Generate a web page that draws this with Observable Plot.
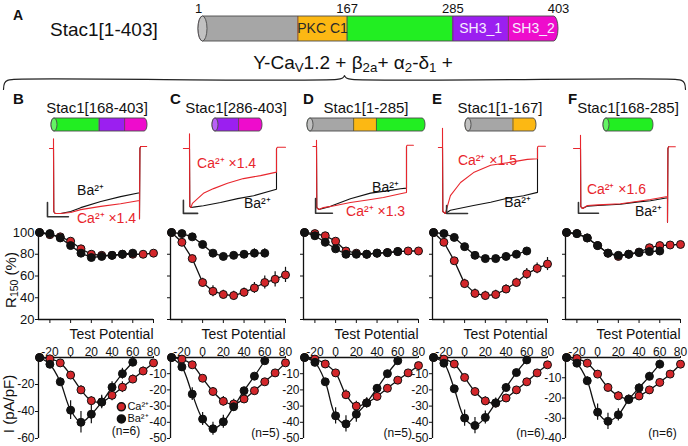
<!DOCTYPE html>
<html>
<head>
<meta charset="utf-8">
<script src="https://cdn.jsdelivr.net/npm/d3@7"></script>
<script src="https://cdn.jsdelivr.net/npm/@observablehq/plot@0.6"></script>
<style>
  html, body { margin: 0; padding: 0; background: #fff; }
  #fig { position: relative; width: 688px; height: 446px; overflow: hidden; background: #fff;
         font-family: "Liberation Sans", Arial, Helvetica, sans-serif; color: #111; }
  #fig svg { position: absolute; left: 0; top: 0; }
  .t { position: absolute; white-space: nowrap; line-height: 1; }
  .t sub { font-size: 70%; vertical-align: -0.25em; line-height: 0; }
</style>
</head>
<body>
<div id="fig"></div>
<script>
// ===================== DATA =====================
const panelLetters = ["B", "C", "D", "E", "F"];
const constructNames = ["Stac1[168-403]", "Stac1[286-403]", "Stac1[1-285]", "Stac1[1-167]", "Stac1[168-285]"];
const constructStart = [168, 286, 1, 1, 168];
const constructEnd = [403, 403, 285, 167, 285];

const domainNames = ["", "PKC C1", "", "SH3_1", "SH3_2"];
const domainStart = [1, 112, 167, 285, 347];
const domainEnd = [112, 167, 285, 347, 403];
const domainColors = ["#a6a6a6", "#fcb813", "#22ee22", "#9b1ff0", "#ee0ccc"];
const residueMarks = [1, 167, 285, 403];

// test potentials (mV)
const voltCa = [-30, -20, -10, 0, 10, 20, 30, 40, 50, 60, 70, 80];
const voltBa = [-30, -20, -10, 0, 10, 20, 30, 40, 50, 60];
const xTickValues = [-20, 0, 20, 40, 60, 80];
const r150TickValues = [20, 40, 60, 80, 100];
const ivTickValues = [[-20, -40, -60], [-10, -20, -30, -40, -50], [-10, -20, -30, -40, -50], [-10, -20, -30, -40, -50], [-10, -20, -30, -40]];
const ivLowest = [-60, -50, -50, -50, -40];

// R150 (%)
const r150Ca = [
  [100, 98, 96, 92, 85, 80, 79, 79, 80, 80, 80, 81],
  [100, 91, 76, 54, 46, 43, 42, 45, 49, 54, 57, 61],
  [100, 99, 97, 92, 83, 81, 80, 81, 81.5, 82.5, 83, 83],
  [100, 91, 74, 53, 44, 42, 43, 48, 54, 62, 67, 71],
  [100, 99, 95, 88, 81, 78, 80, 82, 86, 88, 88.5, 89]
];
const r150CaErr = [
  [0, 1, 1, 2, 2, 2, 2, 2, 2, 2, 2, 2],
  [0, 2, 3, 4, 5, 4, 4, 4, 5, 6, 7, 7],
  [0, 1, 1, 2, 2, 2, 1, 1, 1, 1, 1, 2],
  [0, 1, 2, 4, 4, 4, 4, 4, 4, 5, 5, 6],
  [0, 1, 1, 1, 1, 2, 2, 2, 1, 1, 1, 1]
];
const r150Ba = [
  [100, 99, 95, 88, 81, 77, 78, 79, 80, 81],
  [100, 99, 96, 89, 81, 78, 79, 80, 81, 81],
  [100, 97, 91, 85, 80, 80, 80, 81, 81.5, 82.5],
  [100, 99, 95.5, 87, 79, 76, 76, 78, 80, 83],
  [100, 99, 95, 88, 81, 79, 80, 81.5, 82.5, 83]
];
const r150BaErr = [
  [0, 1, 1, 2, 2, 2, 2, 2, 3, 3],
  [0, 1, 1, 1, 2, 2, 2, 3, 4, 4],
  [0, 1, 2, 2, 2, 2, 2, 1, 1, 1],
  [0, 1, 1, 1, 2, 2, 2, 1, 1, 2],
  [0, 1, 1, 1, 2, 2, 2, 1, 1, 2]
];

// I-V (pA/pF)
const ivCa = [
  [0, -1, -4, -13, -24, -32, -33, -28, -22, -16, -10, -4],
  [0, -1, -4.5, -12.8, -21, -27, -28.7, -25.6, -20.5, -15, -9.5, -3.3],
  [0, -1, -4, -9.5, -23, -30, -28, -24, -19, -14, -9.5, -5],
  [0, -1, -4, -12.3, -21, -26.8, -28.2, -25, -20, -15, -9.5, -4.5],
  [0, -0.5, -2.8, -8.2, -14.8, -18.9, -20.5, -19, -16, -12.3, -8.2, -3.3]
];
const ivCaErr = [
  [0, 0.5, 1, 2, 3, 3, 4, 4, 4, 3, 3, 2],
  [0, 0.5, 1, 1.5, 2.5, 3, 3, 2.5, 2, 1.5, 1, 1],
  [0, 0.5, 1, 2, 3, 3, 3, 2, 2, 1.5, 1, 1],
  [0, 0.5, 1, 1.5, 2, 2.5, 2.5, 2, 2, 1.5, 1, 1],
  [0, 0.5, 1, 1.5, 2, 2, 2, 2, 1.5, 1.5, 1, 1]
];
const ivBa = [
  [0, -5, -18, -39, -48, -42, -33, -22, -12, -3.5],
  [0, -5.8, -22.6, -38, -44, -39.7, -30.4, -20.5, -11.5, -2],
  [0, -3, -15, -36, -41, -35, -28, -19, -10, -2],
  [0, -3.5, -19.3, -37.4, -42, -37, -28, -18.5, -9.3, -1.5],
  [0, -2.8, -11.5, -27, -31.5, -28.3, -20.8, -15, -9.3, -3.3]
];
const ivBaErr = [
  [0, 1, 3, 7, 8, 7, 5, 4, 4, 2],
  [0, 1, 4, 4, 4, 4, 3, 2, 1.5, 1],
  [0, 1, 2, 5, 5, 5, 3, 2, 2, 1],
  [0, 1, 2, 5, 5, 4, 3, 2, 1.5, 1],
  [0, 1, 2, 4, 4, 3, 2, 2, 2, 2]
];
const nCells = [6, 5, 5, 6, 6];

// current traces (time in ms from pulse onset, current normalised to peak)
const traceCaT = [
  [-14, 0, 0, 1, 6, 25, 60, 95, 165, 234, 300, 300, 301.5, 304, 312, 325],
  [-21, 0, 0, 1, 5, 10, 28, 48, 83, 131, 186, 245, 300, 300, 303, 315, 331],
  [-12, 0, 0, 1, 8, 23, 60, 113, 170, 223, 280, 300, 300, 302, 310, 323],
  [-13, 0, 0, 1, 9, 25, 57, 98, 152, 205, 268, 300, 300, 302, 312, 325],
  [-24, 0, 0, 1, 7, 24, 60, 138, 200, 241, 300, 300, 301.5, 304, 314, 327]
];
const traceCaI = [
  [0, 0, 0.15, -0.97, -1.0, -1.0, -0.985, -0.94, -0.89, -0.85, -0.80, -1.08, 0, 0.03, 0.03, 0.03],
  [0, 0, 0.25, -0.98, -1.0, -0.93, -0.85, -0.76, -0.68, -0.59, -0.51, -0.46, -0.40, 0, 0.02, 0.02, 0.02],
  [0, 0, 0.1, -0.97, -1.0, -0.97, -0.94, -0.89, -0.85, -0.81, -0.75, -0.73, 0, 0.02, 0.02, 0.02],
  [0, 0, 0.29, -0.97, -1.0, -0.73, -0.53, -0.38, -0.27, -0.23, -0.18, -0.17, 0, 0.02, 0.02, 0.02],
  [0, 0, 0.22, -0.97, -1.0, -0.95, -0.94, -0.92, -0.88, -0.85, -0.80, -1.23, 0, 0.03, 0.03, 0.03]
];
const traceBaT = [
  [0, 1, 6, 25, 60, 95, 165, 234, 300, 300, 301.5, 304],
  [0, 1, 5, 20, 48, 107, 166, 221, 300, 300],
  [0, 1, 8, 47, 113, 180, 240, 280, 300, 300],
  [0, 1, 9, 25, 98, 152, 205, 256, 300, 300],
  [0, 1, 7, 24, 60, 138, 200, 241, 300, 300, 301.5, 304]
];
const traceBaI = [
  [0, -0.97, -1.0, -1.0, -0.97, -0.91, -0.815, -0.74, -0.68, -1.08, 0, 0.03],
  [0, -0.98, -1.0, -0.99, -0.97, -0.915, -0.85, -0.80, -0.69, 0],
  [0, -0.97, -1.0, -0.95, -0.83, -0.74, -0.70, -0.67, -0.66, 0],
  [0, -0.97, -1.0, -0.95, -0.88, -0.83, -0.77, -0.73, -0.68, 0],
  [0, -0.97, -1.0, -0.96, -0.95, -0.93, -0.89, -0.87, -0.82, -1.23, 0, 0.03]
];
const scaleBarT = [[-21, 52], [-21, 28], [-3, 53], [13, 79], [-7, 62]];
const scaleBarI = [[-0.83, -1.05], [-0.88, -1.1], [-0.825, -1.06], [-0.88, -1.0], [-0.9, -1.08]];
const traceLabelText = [["Ba²⁺", "Ca²⁺ ×1.4"], ["Ca²⁺ ×1.4", "Ba²⁺"], ["Ba²⁺", "Ca²⁺ ×1.3"], ["Ca²⁺ ×1.5", "Ba²⁺"], ["Ca²⁺ ×1.6", "Ba²⁺"]];
const traceLabelT = [[129, 185], [128, 234], [230, 197], [142, 237], [124, 234]];
const traceLabelI = [[-0.65, -1.07], [-0.25, -0.93], [-0.65, -1.03], [-0.2, -0.83], [-0.68, -1.05]];

// annotation anchors in data units
const nLabelV = [53.5, 60.7, 60, 63.6, 62.6];
const nLabelI = [-54.5, -47, -47, -47, -37.5];
const legendNames = ["Ca²⁺", "Ba²⁺"];
const legendV = [49, 49];
const legendI = [-36.5, -45.5];

// curly brace shape (fractions of its span)
const braceX = [0, 0.0015, 0.006, 0.015, 0.489, 0.4965, 0.4993, 0.5, 0.5007, 0.5035, 0.511, 0.985, 0.994, 0.9985, 1];
const braceY = [1, 0.55, 0.35, 0.28, 0.28, 0.2, 0.07, 0, 0.07, 0.2, 0.28, 0.28, 0.35, 0.55, 1];

// ===================== LAYOUT =====================
const W = 688, H = 446;
const RED = "#e8262d";
const DOTRED = "#d3262a";
const INK = "#111";
const FONT = '"Liberation Sans", Arial, Helvetica, sans-serif';
const baseStyle = {background: "transparent", overflow: "visible", fontFamily: FONT, color: INK};
const colAxisX = [38, 170, 303, 432, 565];
const plotW = 115;
const xDomain = [-31, 80];
const miniBarPx = [[51, 147], [212, 262], [307, 425], [465, 536], [603, 653]];
const tracePulsePx = [[53, 139], [189, 276], [316, 406], [442, 537], [580, 667]];
const traceBasePx = [148, 148, 146, 147, 148];
const tracePeakPx = [213, 207, 209, 213, 208];

const fig = document.getElementById("fig");
function mount(svg) { fig.appendChild(svg); }
const lighten = (c, k) => d3.interpolateRgb(c, "#ffffff")(k);

const domains = domainNames.map((name, i) => ({name, start: domainStart[i], end: domainEnd[i], color: domainColors[i]}));

function cylinder(segs, d0, d1, x0, x1, yTop, yBot, extra) {
  const pxPerRes = (x1 - x0) / (d1 - d0);
  const ry = (yBot - yTop) / 2;
  const capPx = Math.max(3, (yBot - yTop) * 0.18);
  const capRes = capPx / pxPerRes;
  const first = segs[0], last = segs[segs.length - 1];
  const y1 = () => 0, y2 = () => 1;
  const inner = segs.map((d, i) => ({
    s: i === 0 ? d0 + capRes : d.start,
    e: i === segs.length - 1 ? d.end - capRes : d.end,
    color: d.color
  }));
  return Plot.plot({
    width: W, height: H, margin: 0, style: baseStyle,
    x: {domain: [d0, d1], range: [x0, x1], axis: null},
    y: {domain: [0, 1], range: [yBot, yTop], axis: null},
    marks: [
      Plot.rect([{s: d0, e: d1}], {x1: "s", x2: "e", y1, y2, fill: last.color, rx: capPx, ry}),
      Plot.rect(inner, {x1: "s", x2: "e", y1, y2, fill: "color"}),
      Plot.ruleX(segs.slice(1), {x: "start", y1, y2, stroke: "#4a4a4a", strokeWidth: 0.8}),
      Plot.rect([{s: d0, e: d1}], {x1: "s", x2: "e", y1, y2, fill: "none", stroke: "#4a4a4a", strokeWidth: 0.9, rx: capPx, ry}),
      Plot.rect([{s: d0, e: d0 + 2 * capRes}], {x1: "s", x2: "e", y1, y2, fill: lighten(first.color, 0.3), stroke: "#4a4a4a", strokeWidth: 0.9, rx: capPx, ry}),
      ...(extra || [])
    ]
  });
}

// ---- top construct bar (A)
mount(cylinder(domains, 1, 403, 198, 558, 16, 41, [
  Plot.text(domains.filter(d => d.name), {
    x: d => (d.start + d.end) / 2, y: () => 0.5, text: "name", fontSize: 14,
    fill: d => d.name === "PKC C1" ? "#2a2a2a" : "#f6ecff"
  }),
  Plot.text(residueMarks, {x: d => d, y: () => 1, dy: -4, lineAnchor: "bottom", text: d => String(d), fontSize: 13, fill: INK})
]));

// ---- brace
mount(Plot.plot({
  width: W, height: H, margin: 0, style: baseStyle,
  x: {domain: [0, 1], range: [3, 685], axis: null},
  y: {domain: [0, 1], range: [75, 89], axis: null},
  marks: [Plot.line(braceX.map((x, i) => ({x, y: braceY[i]})), {x: "x", y: "y", curve: "catmull-rom", stroke: "#222", strokeWidth: 1.2})]
}));

// ---- per-panel plots
for (let i = 0; i < 5; i++) {
  // mini construct bar
  const segs = domains
    .filter(d => d.end > constructStart[i] && d.start < constructEnd[i])
    .map(d => ({...d, start: Math.max(d.start, constructStart[i]), end: Math.min(d.end, constructEnd[i])}));
  mount(cylinder(segs, constructStart[i], constructEnd[i], miniBarPx[i][0], miniBarPx[i][1], 118, 131));

  // current traces
  const ca = traceCaT[i].map((t, j) => ({t, c: traceCaI[i][j]}));
  const ba = traceBaT[i].map((t, j) => ({t, c: traceBaI[i][j]}));
  const sb = [
    {t: scaleBarT[i][0], c: scaleBarI[i][0]},
    {t: scaleBarT[i][0], c: scaleBarI[i][1]},
    {t: scaleBarT[i][1], c: scaleBarI[i][1]}
  ];
  const labels = traceLabelText[i].map((s, j) => ({s, t: traceLabelT[i][j], c: traceLabelI[i][j]}));
  mount(Plot.plot({
    width: W, height: H, margin: 0, style: baseStyle,
    x: {domain: [0, 300], range: tracePulsePx[i], axis: null},
    y: {domain: [-1, 0], range: [tracePeakPx[i], traceBasePx[i]], axis: null},
    marks: [
      Plot.line(ba, {x: "t", y: "c", stroke: INK, strokeWidth: 1.1}),
      Plot.line(ca, {x: "t", y: "c", stroke: RED, strokeWidth: 1.1}),
      Plot.line(sb, {x: "t", y: "c", stroke: "#333", strokeWidth: 1.6}),
      Plot.text(labels, {x: "t", y: "c", text: "s", fontSize: 14, fill: d => d.s.startsWith("Ca") ? RED : INK})
    ]
  }));

  const x0 = colAxisX[i];
  const frame = {marginLeft: x0, marginRight: W - x0 - plotW};

  // R150 plot
  const rCa = voltCa.map((v, j) => ({v, y: r150Ca[i][j], e: r150CaErr[i][j]}));
  const rBa = voltBa.map((v, j) => ({v, y: r150Ba[i][j], e: r150BaErr[i][j]}));
  mount(Plot.plot({
    width: W, height: H, ...frame, marginTop: 232, marginBottom: H - 319,
    style: {...baseStyle, fontSize: "13px"},
    x: {domain: xDomain, ticks: xTickValues, tickSize: 4, tickFormat: () => "", label: null},
    y: {domain: [20, 100], ticks: r150TickValues, tickSize: 3, tickPadding: 1,
        tickFormat: i === 0 ? d => String(d) : () => "", label: null},
    marks: [
      Plot.ruleY([20], {stroke: INK, strokeWidth: 1.3}),
      Plot.ruleX([xDomain[0]], {stroke: INK, strokeWidth: 1.3}),
      Plot.line(rCa, {x: "v", y: "y", stroke: INK, strokeWidth: 1.3}),
      Plot.line(rBa, {x: "v", y: "y", stroke: INK, strokeWidth: 1.3}),
      Plot.ruleX(rCa, {x: "v", y1: d => d.y - d.e, y2: d => d.y + d.e, stroke: INK, strokeWidth: 1.2}),
      Plot.ruleX(rBa, {x: "v", y1: d => d.y - d.e, y2: d => d.y + d.e, stroke: INK, strokeWidth: 1.2}),
      Plot.dot(rCa, {x: "v", y: "y", r: 4, fill: DOTRED, stroke: INK, strokeWidth: 1}),
      Plot.dot(rBa, {x: "v", y: "y", r: 4, fill: INK, stroke: INK, strokeWidth: 1})
    ]
  }));

  // I-V plot
  const iCa = voltCa.map((v, j) => ({v, y: ivCa[i][j], e: ivCaErr[i][j]}));
  const iBa = voltBa.map((v, j) => ({v, y: ivBa[i][j], e: ivBaErr[i][j]}));
  const legend = i === 0 ? [
    Plot.dot(legendNames, {x: (d, j) => legendV[j], y: (d, j) => legendI[j], r: 4, fill: (d, j) => j === 0 ? DOTRED : INK, stroke: INK}),
    Plot.text(legendNames, {x: (d, j) => legendV[j], y: (d, j) => legendI[j], text: d => d, dx: 6, textAnchor: "start", fontSize: 11})
  ] : [];
  mount(Plot.plot({
    width: W, height: H, ...frame, marginTop: 357, marginBottom: H - 438,
    style: {...baseStyle, fontSize: "12px"},
    x: {domain: xDomain, axis: "top", ticks: xTickValues, tickSize: 2, tickPadding: 0, tickFormat: d => String(d), label: null},
    y: {domain: [ivLowest[i], 0], ticks: ivTickValues[i], tickSize: 3, tickPadding: 1, tickFormat: d => String(d), label: null},
    marks: [
      Plot.ruleY([0], {stroke: INK, strokeWidth: 1.3}),
      Plot.ruleX([xDomain[0]], {stroke: INK, strokeWidth: 1.3}),
      Plot.line(iCa, {x: "v", y: "y", curve: "catmull-rom", stroke: INK, strokeWidth: 1.3}),
      Plot.line(iBa, {x: "v", y: "y", curve: "catmull-rom", stroke: INK, strokeWidth: 1.3}),
      Plot.ruleX(iCa, {x: "v", y1: d => d.y - d.e, y2: d => d.y + d.e, stroke: INK, strokeWidth: 1.2}),
      Plot.ruleX(iBa, {x: "v", y1: d => d.y - d.e, y2: d => d.y + d.e, stroke: INK, strokeWidth: 1.2}),
      Plot.dot(iCa, {x: "v", y: "y", r: 4, fill: DOTRED, stroke: INK, strokeWidth: 1}),
      Plot.dot(iBa, {x: "v", y: "y", r: 4, fill: INK, stroke: INK, strokeWidth: 1}),
      Plot.text(["Test Potential"], {text: d => d, frameAnchor: "top-right", dy: -28, textAnchor: "end", fontSize: 14}),
      Plot.text([`(n=${nCells[i]})`], {x: () => nLabelV[i], y: () => nLabelI[i], text: d => d, fontSize: 12}),
      ...legend
    ]
  }));
}

// ===================== HTML TEXT =====================
function addText(html, x, baseline, size, opts = {}) {
  const d = document.createElement("div");
  d.className = "t";
  d.innerHTML = html;
  d.style.fontSize = size + "px";
  d.style.left = x + "px";
  d.style.top = (baseline - 0.85 * size) + "px";
  if (opts.bold) d.style.fontWeight = "bold";
  if (opts.color) d.style.color = opts.color;
  if (opts.center) d.style.transform = "translateX(-50%)";
  fig.appendChild(d);
  return d;
}
function addRotated(html, cx, cy, size) {
  const d = document.createElement("div");
  d.className = "t";
  d.innerHTML = html;
  d.style.fontSize = size + "px";
  d.style.left = cx + "px";
  d.style.top = cy + "px";
  d.style.transform = "translate(-50%, -50%) rotate(-90deg)";
  fig.appendChild(d);
}

addText("A", 13, 20, 14, {bold: true});
addText("Stac1[1-403]", 50, 36, 19);
addText("Y-Ca<sub>V</sub>1.2 + β<sub>2a</sub>+ α<sub>2</sub>-δ<sub>1</sub> +", 353, 69, 19, {center: true});

const letterX = [13, 170, 303, 432, 568];
const titleCX = [97, 236, 366, 500, 628];
for (let i = 0; i < 5; i++) {
  addText(panelLetters[i], letterX[i], 104, 15, {bold: true});
  addText(constructNames[i], titleCX[i], 113, 15, {center: true});
}
addRotated("R<sub>150</sub> (%)", 10, 280, 15);
addRotated("I (pA/pF)", 8, 404, 15);
</script>
</body>
</html>
